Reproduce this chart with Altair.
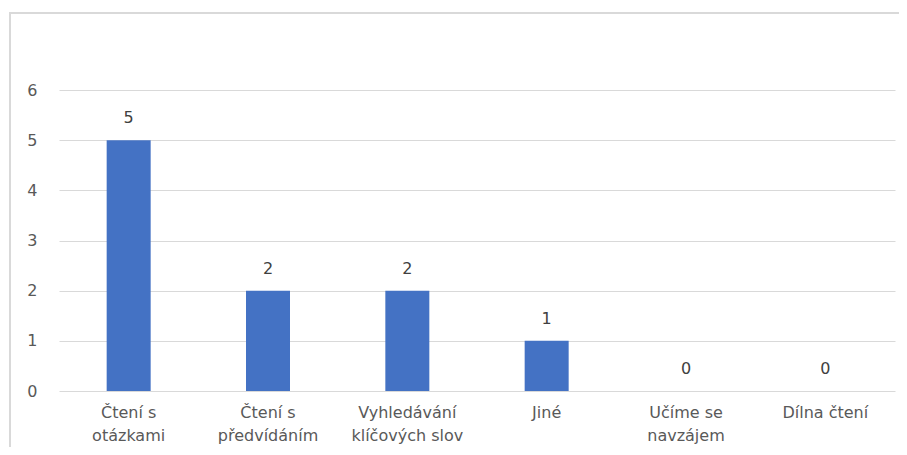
import altair as alt
import pandas as pd

categories = ["Čtení s otázkami", "Čtení s předvídáním", "Vyhledávání klíčových slov",
              "Jiné", "Učíme se navzájem", "Dílna čtení"]
values = [5, 2, 2, 1, 0, 0]
label_lines = {
    "Čtení s otázkami": ["Čtení s", "otázkami"],
    "Čtení s předvídáním": ["Čtení s", "předvídáním"],
    "Vyhledávání klíčových slov": ["Vyhledávání", "klíčových slov"],
    "Jiné": ["Jiné"],
    "Učíme se navzájem": ["Učíme se", "navzájem"],
    "Dílna čtení": ["Dílna čtení"],
}
y_ticks = [0, 1, 2, 3, 4, 5, 6]

df = pd.DataFrame({"cat": categories, "val": values})

expr = ""
for k, v in label_lines.items():
    arr = "[" + ",".join("'" + s + "'" for s in v) + "]"
    expr += f"datum.label == '{k}' ? {arr} : "
expr += "datum.label"

FONT = "DejaVu Sans"
TXT = "#595959"

x_enc = alt.X("cat:N", sort=categories, title=None,
              scale=alt.Scale(paddingInner=0, paddingOuter=0),
              axis=alt.Axis(labelExpr=expr, labelAngle=0, domain=False, ticks=False,
                            labelFont=FONT, labelFontSize=16, labelColor=TXT,
                            labelPadding=13, labelLineHeight=23, labelLimit=200))
y_enc = alt.Y("val:Q", title=None, scale=alt.Scale(domain=[0, 6]),
              axis=alt.Axis(values=y_ticks, domain=False, ticks=False, grid=True,
                            gridColor="#d9d9d9", labelFont=FONT, labelFontSize=16,
                            labelColor=TXT, labelPadding=22))

base = alt.Chart(df)

border = base.mark_rect(fill=None, stroke="#d9d9d9", strokeWidth=2, clip=False).encode(
    x=alt.value(-49), x2=alt.value(1000), y=alt.value(-77), y2=alt.value(1000)
).transform_filter("datum.cat == 'Jiné'")

bars = base.mark_bar(color="#4472C4", size=44).encode(x=x_enc, y=y_enc)
text = base.mark_text(dy=-14, baseline="bottom", font=FONT, fontSize=16, color="#404040").encode(
    x=alt.X("cat:N", sort=categories), y="val:Q", text="val:Q")

chart = alt.layer(border, bars, text).properties(
    width=836, height=301,
    autosize=alt.AutoSizeParams(type="none"),
    padding={"left": 51, "top": 82, "right": 4, "bottom": 56},
).configure_view(stroke=None)

chart.save("out.html", embed_options={"renderer": "svg", "actions": False})
